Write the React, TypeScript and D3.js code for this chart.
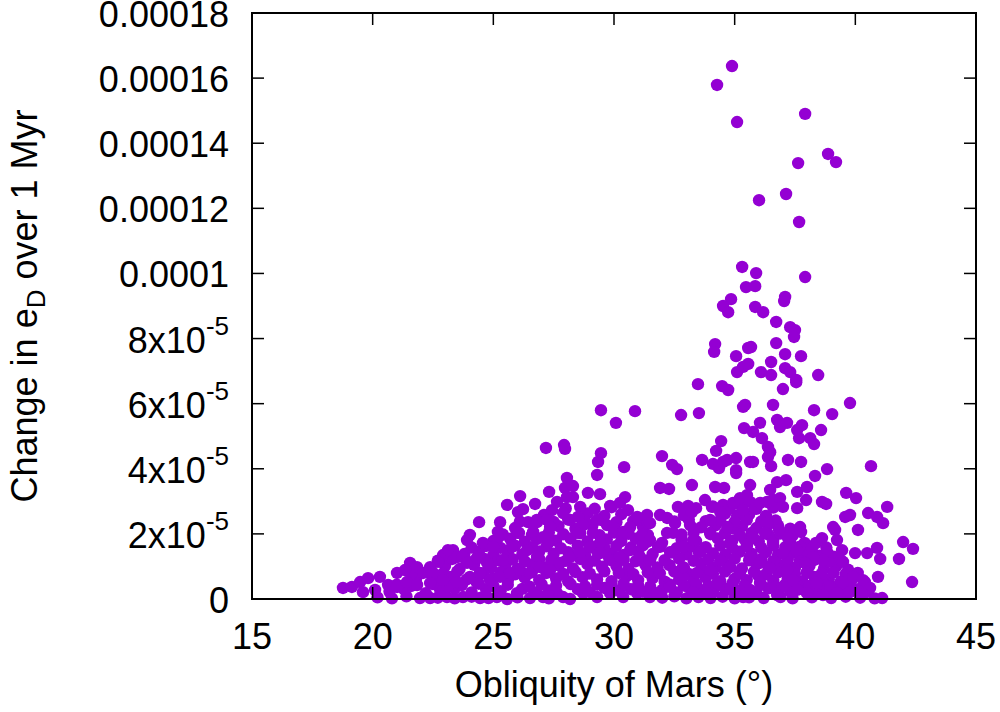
import * as d3 from "d3";

// obliquity (deg) vs change in e_D over 1 Myr, y stored in units of 1e-5
const peakPoints: [number, number][] = [
  [34.89, 16.37], [34.27, 15.79], [35.1, 14.65], [37.92, 14.9], [38.87, 13.67], [39.2, 13.42],
  [37.63, 13.39], [37.13, 12.44], [36.01, 12.25], [37.67, 11.58], [35.31, 10.2], [35.89, 10.01],
  [37.92, 9.89], [35.47, 9.58], [35.85, 9.61], [34.85, 9.21], [34.52, 9.0], [34.73, 8.81],
  [35.85, 8.97], [36.18, 8.81], [37.09, 9.28], [37.05, 9.15], [36.72, 8.51], [37.3, 8.35],
  [37.5, 8.26], [37.46, 8.05], [34.19, 7.83], [34.15, 7.59], [35.06, 7.46], [35.56, 7.71],
  [35.68, 7.74], [36.72, 7.86], [37.09, 7.52], [37.75, 7.46], [36.51, 7.28], [35.1, 6.97],
  [35.35, 7.13], [35.56, 7.22], [36.09, 6.97], [36.51, 6.88], [37.09, 7.09], [37.3, 6.97],
  [38.46, 6.88], [37.55, 6.73],
];

const upperScatter: [number, number][] = [
  [33.48, 6.6], [34.48, 6.54], [34.73, 6.42], [32.78, 5.65], [33.52, 5.71], [35.35, 5.9],
  [35.43, 5.96], [36.59, 5.96], [37.0, 6.45], [37.55, 6.66], [38.29, 5.8], [39.04, 5.68],
  [39.78, 6.02], [35.39, 5.25], [35.76, 5.13], [36.05, 5.41], [36.13, 4.94], [36.38, 4.67],
  [36.47, 4.51], [36.38, 4.36], [36.51, 4.08], [36.76, 5.5], [36.88, 5.28], [37.17, 5.41],
  [37.59, 5.19], [37.79, 5.34], [37.67, 4.94], [38.13, 4.94], [38.29, 4.76], [38.58, 5.19],
  [34.44, 4.85], [34.23, 4.55], [31.99, 4.39], [32.41, 4.12], [32.61, 3.99], [33.65, 4.27],
  [34.1, 4.15], [34.35, 4.02], [34.52, 4.21], [34.69, 4.27], [35.06, 4.33], [35.06, 3.96],
  [35.06, 3.87], [35.64, 4.21], [35.76, 4.21], [37.21, 4.27], [37.75, 4.21], [38.83, 3.99],
  [38.33, 3.78], [40.65, 4.08], [29.46, 5.8], [30.87, 5.77], [30.08, 5.41], [27.18, 4.64],
  [27.93, 4.73], [27.97, 4.61], [29.46, 4.48], [29.34, 4.21], [30.42, 4.05], [29.3, 3.81],
  [28.05, 3.72],
];

const rightBand: [number, number][] = [
  [31.91, 3.41], [32.28, 3.38], [33.23, 3.5], [34.19, 3.44], [34.56, 3.41], [35.64, 3.5],
  [36.47, 3.35], [36.76, 3.59], [37.13, 3.65], [37.59, 3.29], [38.0, 3.44], [37.96, 3.04],
  [38.62, 2.98], [38.79, 2.92], [39.62, 3.26], [40.03, 3.1], [41.32, 2.83], [40.53, 2.64],
  [40.9, 2.52], [41.15, 2.33], [39.58, 2.52], [39.78, 2.58], [40.11, 2.12], [41.98, 1.75],
  [42.39, 1.54], [41.81, 1.23], [42.35, 0.52], [41.11, 0.03], [40.94, 0.68], [41.03, 1.23],
  [40.9, 1.57], [40.49, 1.41], [39.99, 1.41], [39.16, 2.12], [39.24, 1.81], [39.08, 2.21],
  [38.37, 1.72], [38.62, 1.87], [39.45, 1.5], [39.49, 1.14], [38.83, 1.44], [38.66, 1.2],
  [37.21, 1.87], [37.59, 1.5], [37.71, 2.21], [37.75, 2.06], [38.04, 1.14], [38.25, 1.29],
  [36.84, 2.12], [36.38, 2.27], [33.15, 2.27], [33.98, 2.43], [33.07, 2.86], [33.23, 2.67],
  [32.65, 2.83], [33.77, 3.04], [34.06, 2.83], [34.52, 2.89], [34.4, 2.67], [34.93, 2.95],
  [35.22, 3.1], [35.51, 3.19], [35.64, 2.98], [35.85, 2.79], [35.35, 2.73], [36.05, 2.95],
  [36.34, 2.98], [36.59, 3.04], [36.88, 3.1], [37.0, 2.83], [37.59, 2.79], [31.91, 2.58],
  [32.2, 2.49], [32.53, 2.33], [32.45, 2.03], [31.49, 2.33], [31.99, 1.72], [32.32, 1.44],
  [33.28, 1.81], [32.86, 1.6], [34.81, 1.72], [34.69, 2.21], [35.51, 1.66], [35.76, 1.9],
  [36.34, 2.33], [36.26, 2.03], [36.59, 1.72], [37.0, 1.41], [33.98, 2.03], [33.57, 1.44],
  [37.92, 1.11], [35.64, 1.29], [36.05, 1.11], [36.47, 0.95], [37.17, 0.89], [37.42, 0.58],
  [38.0, 0.8], [38.41, 0.49], [38.96, 0.37], [39.49, 0.49], [39.91, 0.68], [40.32, 0.58],
  [40.61, 0.34], [38.0, 0.18], [38.66, 0.12], [39.24, 0.18], [39.78, 0.21], [40.32, 0.15],
  [37.59, 0.28], [37.0, 0.37], [36.76, 0.12], [36.05, 0.49], [35.64, 0.28], [35.35, 0.06],
  [34.27, 0.49], [34.81, 0.28], [33.86, 0.18], [32.86, 0.68], [32.32, 0.37], [31.78, 0.18],
  [33.28, 0.21], [34.81, 0.98], [35.22, 0.8], [32.86, 0.98], [33.98, 0.89], [33.44, 0.8],
];

const leftBand: [number, number][] = [
  [27.31, 3.29], [26.11, 3.16], [26.73, 2.92], [25.57, 2.89], [26.02, 2.67], [26.23, 2.76],
  [27.97, 3.41], [28.3, 3.47], [28.05, 3.13], [28.3, 3.13], [28.92, 3.26], [29.42, 3.22],
  [29.84, 2.86], [30.46, 3.13], [30.58, 2.73], [30.25, 2.95], [27.64, 2.98], [27.43, 2.73],
  [26.44, 2.36], [26.81, 2.36], [26.65, 2.06], [24.41, 2.36], [25.28, 2.36], [25.19, 2.06],
  [25.19, 1.87], [24.03, 1.97], [23.91, 1.81], [26.06, 2.03], [27.23, 2.43], [27.35, 2.21],
  [27.06, 1.9], [27.27, 1.72], [27.89, 2.64], [28.18, 2.43], [28.51, 2.52], [28.72, 2.27],
  [28.47, 2.03], [29.3, 2.43], [29.71, 2.27], [29.96, 2.21], [29.13, 2.03], [29.42, 1.72],
  [30.38, 2.06], [30.67, 2.21], [31.08, 2.43], [31.41, 2.33], [31.37, 2.58], [30.96, 2.52],
  [31.16, 1.97], [31.49, 1.81], [31.83, 1.6], [23.33, 1.5], [22.92, 1.35], [22.71, 1.14],
  [21.55, 1.11], [24.57, 1.72], [24.99, 1.6], [21.01, 0.8], [21.34, 0.89], [21.84, 0.98],
  [22.09, 0.8], [22.38, 0.98], [22.5, 0.8], [23.12, 1.5], [23.5, 1.29], [23.74, 1.29],
  [23.91, 1.11], [24.32, 1.26], [24.74, 1.11], [25.4, 1.2], [25.77, 1.6], [26.4, 1.5],
  [26.81, 1.29], [26.65, 0.98], [20.3, 0.68], [20.64, 0.43], [18.77, 0.34], [19.14, 0.37],
  [19.48, 0.52], [19.81, 0.64], [20.1, 0.28], [19.6, 0.21], [21.01, 0.37], [21.42, 0.52],
  [21.84, 0.43], [22.38, 0.49], [22.92, 0.58], [23.5, 0.52], [24.03, 0.68], [24.45, 0.8],
  [24.86, 0.58], [25.28, 0.68], [25.69, 0.8], [26.11, 0.89], [26.52, 0.8], [26.94, 0.98],
  [27.35, 0.89], [27.76, 1.11], [28.18, 1.29], [28.59, 1.44], [29.0, 1.6], [29.42, 1.41],
  [29.84, 1.2], [30.25, 1.29], [30.67, 1.5], [31.08, 1.29], [31.49, 1.2],
];

const floorPoints: [number, number][] = [
  [21.96, 0.03], [22.38, 0.03], [23.08, 0.06], [23.74, 0.06], [24.45, 0.03], [25.15, 0.06],
  [25.57, 0.0], [25.98, 0.18], [26.52, 0.03], [27.06, 0.06], [27.64, 0.18], [27.89, 0.06],
  [28.18, 0.0], [28.72, 0.18], [29.3, 0.06], [29.84, 0.18], [30.38, 0.06], [30.96, 0.18],
  [31.49, 0.06], [20.2, 0.05], [20.8, 0.02], [21.4, 0.08], [22.7, 0.04], [23.4, 0.02],
  [24.1, 0.07], [24.8, 0.03], [26.0, 0.05], [27.3, 0.02], [32.0, 0.04], [32.5, 0.08],
  [33.0, 0.02], [33.5, 0.06], [34.0, 0.03], [34.5, 0.07], [35.0, 0.02], [35.6, 0.05],
  [36.2, 0.03], [36.9, 0.06], [37.4, 0.02], [38.2, 0.05], [39.0, 0.03], [39.6, 0.07],
  [40.2, 0.04], [40.8, 0.02],
];

const corePoints: [number, number][] = [
  [20.7, 0.22], [21.3, 0.3], [22.2, 0.18], [22.8, 0.27], [23.4, 0.33], [24.1, 0.2], [24.7, 0.29],
  [25.3, 0.24], [26.2, 0.31], [26.8, 0.19], [27.3, 0.26], [28.5, 0.3], [29.0, 0.21], [29.6, 0.34],
  [30.2, 0.25], [30.7, 0.3], [31.2, 0.22], [32.0, 0.28], [32.6, 0.2], [33.1, 0.35], [33.6, 0.27],
  [34.1, 0.22], [34.6, 0.31], [35.1, 0.26], [35.9, 0.2], [36.4, 0.33], [37.3, 0.24], [37.8, 0.3],
  [38.4, 0.22], [39.0, 0.27], [39.5, 0.19], [40.0, 0.3], [40.5, 0.22],
  [21.8, 0.62], [22.6, 0.55], [23.2, 0.68], [23.9, 0.6], [24.3, 0.52], [25.0, 0.64], [25.6, 0.57],
  [26.3, 0.66], [26.9, 0.58], [27.6, 0.63], [28.1, 0.54], [28.7, 0.67], [29.3, 0.6], [29.9, 0.55],
  [30.5, 0.69], [31.0, 0.58], [31.6, 0.64], [32.1, 0.53], [32.7, 0.6], [33.3, 0.57], [33.8, 0.66],
  [34.4, 0.55], [35.0, 0.62], [35.5, 0.58], [36.0, 0.7], [36.6, 0.56], [37.2, 0.63], [37.8, 0.55],
  [38.3, 0.68], [38.9, 0.6], [39.4, 0.54], [39.9, 0.65], [40.4, 0.52],
  [22.4, 0.95], [23.0, 1.02], [23.6, 0.92], [24.2, 1.05], [24.9, 0.97], [25.5, 1.04], [26.0, 0.93],
  [26.6, 1.06], [27.1, 0.98], [27.7, 1.03], [28.3, 0.94], [28.9, 1.07], [29.5, 0.99], [30.1, 1.02],
  [30.6, 0.92], [31.3, 1.05], [31.8, 0.97], [32.3, 1.04], [32.9, 0.95], [33.6, 1.08], [34.2, 0.98],
  [34.7, 1.03], [35.3, 0.94], [35.9, 1.06], [36.4, 0.99], [36.9, 1.04], [37.5, 0.96], [38.1, 1.02],
  [38.7, 0.93], [39.2, 1.0], [39.7, 0.9],
  [23.8, 1.38], [24.4, 1.45], [25.0, 1.35], [25.6, 1.42], [26.2, 1.37], [26.9, 1.46], [27.5, 1.39],
  [28.1, 1.44], [28.8, 1.36], [29.3, 1.47], [29.9, 1.4], [30.4, 1.35], [31.0, 1.45], [31.6, 1.38],
  [32.4, 1.43], [33.0, 1.37], [33.5, 1.46], [34.1, 1.4], [34.6, 1.35], [35.2, 1.45], [35.7, 1.39],
  [36.3, 1.44], [36.8, 1.37], [37.4, 1.42], [38.0, 1.38], [38.5, 1.33], [39.1, 1.3],
  [25.0, 1.78], [25.7, 1.85], [26.3, 1.76], [26.8, 1.84], [27.6, 1.79], [28.2, 1.86], [28.9, 1.77],
  [29.7, 1.83], [30.3, 1.78], [30.9, 1.85], [31.4, 1.76], [32.8, 1.82], [33.4, 1.78], [34.3, 1.86],
  [34.9, 1.79], [35.4, 1.84], [36.0, 1.77], [36.6, 1.83], [37.3, 1.76], [37.9, 1.72],
  [25.9, 2.18], [27.7, 2.24], [28.4, 2.16], [29.1, 2.25], [30.0, 2.19], [31.2, 2.22], [33.6, 2.2],
  [34.2, 2.26], [34.9, 2.17], [35.3, 2.23], [35.9, 2.18], [36.8, 2.25], [37.3, 2.16],
  [27.1, 2.58], [28.9, 2.63], [29.6, 2.55], [30.3, 2.6], [32.9, 2.57], [34.6, 2.62], [35.1, 2.56],
  [35.6, 2.6], [36.3, 2.55],
];

// in-between layer of the dense core
const coreInfill: [number, number][] = [
  [21.0, 0.44], [21.6, 0.4], [22.5, 0.46], [23.1, 0.39], [23.7, 0.43], [24.4, 0.47], [25.0, 0.4],
  [25.6, 0.44], [26.5, 0.38], [27.0, 0.45], [27.6, 0.41], [28.2, 0.46], [28.8, 0.39], [29.3, 0.44],
  [29.9, 0.4], [30.4, 0.47], [31.0, 0.42], [31.5, 0.38], [32.3, 0.45], [32.9, 0.41], [33.4, 0.46],
  [33.9, 0.39], [34.4, 0.43], [34.9, 0.47], [35.4, 0.41], [36.1, 0.44], [36.7, 0.38], [37.1, 0.45],
  [37.6, 0.42], [38.1, 0.4], [38.7, 0.46], [39.3, 0.41], [39.8, 0.44], [40.3, 0.39],
  [21.6, 0.78], [22.3, 0.83], [22.9, 0.77], [23.5, 0.84], [24.6, 0.79], [25.3, 0.82], [25.9, 0.76],
  [26.6, 0.84], [27.2, 0.8], [27.9, 0.77], [28.4, 0.83], [29.0, 0.78], [29.6, 0.85], [30.2, 0.8],
  [30.8, 0.76], [31.4, 0.82], [31.9, 0.79], [32.5, 0.84], [33.1, 0.77], [33.6, 0.82], [34.1, 0.78],
  [34.6, 0.84], [35.2, 0.79], [35.8, 0.83], [36.3, 0.76], [36.8, 0.82], [37.5, 0.78], [38.0, 0.83],
  [38.6, 0.77], [39.1, 0.81], [39.6, 0.76], [40.1, 0.8],
  [22.7, 1.18], [23.3, 1.23], [23.9, 1.17], [24.6, 1.24], [25.2, 1.19], [25.8, 1.22], [26.3, 1.16],
  [26.9, 1.24], [27.4, 1.2], [28.0, 1.17], [28.6, 1.23], [29.2, 1.18], [29.8, 1.25], [30.4, 1.2],
  [30.9, 1.16], [31.5, 1.22], [32.1, 1.19], [32.7, 1.24], [33.3, 1.17], [33.9, 1.22], [34.4, 1.18],
  [35.0, 1.24], [35.6, 1.19], [36.1, 1.23], [36.6, 1.16], [37.2, 1.22], [37.7, 1.18], [38.3, 1.2],
  [38.9, 1.15], [39.4, 1.19],
  [24.1, 1.58], [24.7, 1.63], [25.3, 1.57], [25.9, 1.64], [26.6, 1.59], [27.2, 1.62], [27.8, 1.56],
  [28.5, 1.64], [29.1, 1.6], [29.6, 1.57], [30.1, 1.63], [30.7, 1.58], [31.2, 1.65], [31.9, 1.6],
  [32.6, 1.56], [33.2, 1.62], [33.8, 1.59], [34.4, 1.64], [34.9, 1.57], [35.5, 1.62], [36.1, 1.58],
  [36.6, 1.64], [37.1, 1.59], [37.7, 1.61], [38.2, 1.55], [38.8, 1.58],
  [25.4, 1.98], [26.0, 2.03], [26.6, 1.97], [27.3, 2.04], [27.9, 1.99], [28.6, 2.02], [29.4, 1.96],
  [30.0, 2.04], [30.6, 2.0], [31.4, 1.97], [32.2, 2.03], [32.8, 1.98], [33.3, 2.04], [34.0, 1.99],
  [34.6, 2.02], [35.2, 1.97], [35.7, 2.03], [36.4, 1.98], [36.9, 2.01], [37.4, 1.95],
  [26.1, 2.38], [26.8, 2.43], [27.5, 2.37], [28.1, 2.44], [28.8, 2.39], [29.5, 2.42], [30.1, 2.36],
  [30.8, 2.4], [32.5, 2.38], [33.1, 2.44], [33.8, 2.39], [34.4, 2.42], [35.0, 2.37], [35.5, 2.43],
  [36.1, 2.38], [36.7, 2.41],
  [28.0, 2.78], [28.6, 2.83], [29.2, 2.77], [29.9, 2.82], [33.4, 2.79], [34.1, 2.84], [34.8, 2.78],
  [35.3, 2.82], [35.9, 2.77], [36.6, 2.81],
];

const xTicks = [15, 20, 25, 30, 35, 40, 45];
const yTicks = [0, 2, 4, 6, 8, 10, 12, 14, 16, 18];
const yTickBase = ["0", "2x10", "4x10", "6x10", "8x10", "0.0001", "0.00012", "0.00014", "0.00016", "0.00018"];
const yTickExp = ["", "-5", "-5", "-5", "-5", "", "", "", "", ""];

const width = 1000;
const height = 712;
const margin = { top: 13, right: 24, bottom: 113, left: 252 };
const font = "'Liberation Sans', Arial, Helvetica, sans-serif";

export default function App() {
  const x = d3.scaleLinear().domain([15, 45]).range([margin.left, width - margin.right]);
  const y = d3.scaleLinear().domain([0, 18]).range([height - margin.bottom, margin.top]);
  const all = [
    ...floorPoints, ...corePoints, ...coreInfill, ...leftBand, ...rightBand, ...upperScatter, ...peakPoints,
  ];
  const [x0, x1] = x.range();
  const [y0, y1] = y.range();
  const tickLen = 12;

  return (
    <svg width={width} height={height} style={{ position: "absolute", left: 0, top: 0, background: "white" }}
      fontFamily={font}>
      <g fill="#9400d3">
        {all.map((d, i) => (
          <circle key={i} cx={x(d[0])} cy={y(d[1])} r={6.2} />
        ))}
      </g>

      {/* ticks, mirrored on both sides */}
      <g stroke="black" strokeWidth={1.5}>
        {xTicks.map((t) => (
          <g key={t}>
            <line x1={x(t)} x2={x(t)} y1={y0} y2={y0 - tickLen} />
            <line x1={x(t)} x2={x(t)} y1={y1} y2={y1 + tickLen} />
          </g>
        ))}
        {yTicks.map((t) => (
          <g key={t}>
            <line x1={x0} x2={x0 + tickLen} y1={y(t)} y2={y(t)} />
            <line x1={x1} x2={x1 - tickLen} y1={y(t)} y2={y(t)} />
          </g>
        ))}
      </g>
      <rect x={x0} y={y1} width={x1 - x0} height={y0 - y1} fill="none" stroke="black" strokeWidth={2} />

      <g fontSize={36} fill="black">
        {xTicks.map((t) => (
          <text key={t} x={x(t)} y={y0 + 50} textAnchor="middle">{t}</text>
        ))}
        {yTicks.map((t, i) => (
          <text key={t} x={229} y={y(t) + 14} textAnchor="end">
            {yTickBase[i]}
            {yTickExp[i] && <tspan fontSize={26} dy={-18}>{yTickExp[i]}</tspan>}
          </text>
        ))}
        <text x={(x0 + x1) / 2} y={697} textAnchor="middle">Obliquity of Mars (°)</text>
        <text transform={`translate(37,${(y0 + y1) / 2}) rotate(-90)`} textAnchor="middle">
          Change in e<tspan fontSize={26} dy={8}>D</tspan><tspan dy={-8}> over 1 Myr</tspan>
        </text>
      </g>
    </svg>
  );
}
